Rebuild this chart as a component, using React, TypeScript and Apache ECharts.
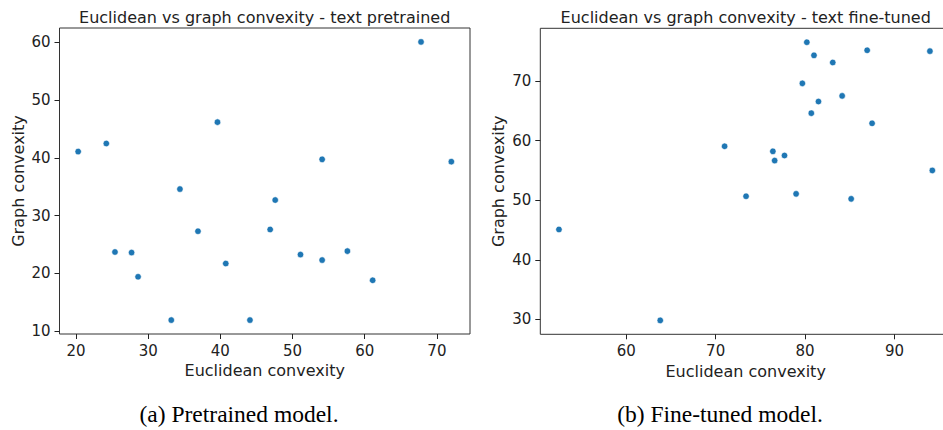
import React, { useEffect, useRef } from "react";
import * as echarts from "echarts";

const pretrainedEuclid = [20.3, 24.2, 39.6, 67.8, 54.1, 72.0, 34.4, 47.6, 36.9, 46.9, 25.4, 27.7, 28.6, 40.75, 51.1, 54.1, 57.6, 61.1, 33.2, 44.1];
const pretrainedGraph = [41.1, 42.5, 46.2, 60.1, 39.75, 39.35, 34.6, 32.7, 27.3, 27.6, 23.7, 23.6, 19.4, 21.7, 23.25, 22.3, 23.85, 18.8, 11.9, 11.9];

const finetunedEuclid = [80.2, 81.0, 83.1, 86.95, 93.97, 79.7, 81.5, 84.15, 80.7, 87.5, 71.0, 76.4, 76.6, 77.7, 94.24, 73.4, 79.0, 85.16, 52.47, 63.8];
const finetunedGraph = [76.5, 74.3, 73.1, 75.15, 75.0, 69.6, 66.55, 67.5, 64.6, 62.9, 59.05, 58.2, 56.65, 57.5, 55.0, 50.67, 51.07, 50.23, 45.1, 29.85];

const leftXTicks = [20, 30, 40, 50, 60, 70];
const leftYTicks = [10, 20, 30, 40, 50, 60];
const rightXTicks = [60, 70, 80, 90];
const rightYTicks = [30, 40, 50, 60, 70];

const titles = ["Euclidean vs graph convexity - text pretrained", "Euclidean vs graph convexity - text fine-tuned"];
const captions = ["(a) Pretrained model.", "(b) Fine-tuned model."];
const xName = "Euclidean convexity";
const yName = "Graph convexity";

const FONT = "DejaVu Sans";
const TXT = "#222";
const BLUE = "#1f77b4";

function pad(vals: number[]) {
  const mn = Math.min(...vals);
  const mx = Math.max(...vals);
  const m = (mx - mn) * 0.05;
  return [mn - m, mx + m];
}

export default function App() {
  const ref = useRef<HTMLDivElement>(null);
  useEffect(() => {
    if (!ref.current) return;
    const chart = echarts.init(ref.current, null, { renderer: "svg" });
    const [lxMin, lxMax] = pad(pretrainedEuclid);
    const [lyMin, lyMax] = pad(pretrainedGraph);
    const [rxMin, rxMax] = pad(finetunedEuclid);
    const [ryMin, ryMax] = pad(finetunedGraph);

    const mkX = (idx: number, min: number, max: number, ticks: number[]) => ({
      type: "value",
      gridIndex: idx,
      min,
      max,
      name: xName,
      nameLocation: "middle",
      nameGap: 27,
      nameTextStyle: { fontFamily: FONT, fontSize: 16, color: TXT },
      splitLine: { show: false },
      axisLine: { show: false },
      axisTick: { show: true, inside: false, length: 5, customValues: ticks, lineStyle: { color: "#222", width: 1 } },
      axisLabel: { customValues: ticks, margin: 9, fontFamily: FONT, fontSize: 15, color: TXT },
    });
    const mkY = (idx: number, min: number, max: number, ticks: number[], gap: number) => ({
      type: "value",
      gridIndex: idx,
      min,
      max,
      name: yName,
      nameLocation: "middle",
      nameGap: gap,
      nameTextStyle: { fontFamily: FONT, fontSize: 16, color: TXT },
      splitLine: { show: false },
      axisLine: { show: false },
      axisTick: { show: true, inside: false, length: 5, customValues: ticks, lineStyle: { color: "#222", width: 1 } },
      axisLabel: { customValues: ticks, margin: 9, fontFamily: FONT, fontSize: 15, color: TXT },
    });

    const pts = (xs: number[], ys: number[]) => xs.map((x, i) => [x, ys[i]]);

    chart.setOption({
      animation: false,
      backgroundColor: "#fff",
      grid: [
        { left: 59.5, top: 28, width: 410.5, height: 306, show: true, borderColor: "#333", borderWidth: 1, backgroundColor: "transparent" },
        { left: 540.3, top: 28.3, width: 410.7, height: 306, show: true, borderColor: "#333", borderWidth: 1, backgroundColor: "transparent" },
      ],
      xAxis: [mkX(0, lxMin, lxMax, leftXTicks), mkX(1, rxMin, rxMax, rightXTicks)],
      yAxis: [mkY(0, lyMin, lyMax, leftYTicks, 33), mkY(1, ryMin, ryMax, rightYTicks, 34)],
      series: [
        {
          type: "scatter",
          xAxisIndex: 0,
          yAxisIndex: 0,
          data: pts(pretrainedEuclid, pretrainedGraph),
          symbolSize: 6.5,
          itemStyle: { color: BLUE, borderColor: "#fff", borderWidth: 0.6, opacity: 1 },
        },
        {
          type: "scatter",
          xAxisIndex: 1,
          yAxisIndex: 1,
          data: pts(finetunedEuclid, finetunedGraph),
          symbolSize: 6.5,
          itemStyle: { color: BLUE, borderColor: "#fff", borderWidth: 0.6, opacity: 1 },
        },
      ],
      graphic: [
        { type: "text", x: 264.7, y: 17, style: { text: titles[0], fontFamily: FONT, fontSize: 16, fill: TXT, textAlign: "center", textVerticalAlign: "middle" } },
        { type: "text", x: 745.7, y: 17, style: { text: titles[1], fontFamily: FONT, fontSize: 16, fill: TXT, textAlign: "center", textVerticalAlign: "middle" } },
        { type: "text", x: 239, y: 414, style: { text: captions[0], fontFamily: "Liberation Serif", fontSize: 23.5, fill: "#000", textAlign: "center", textVerticalAlign: "middle" } },
        { type: "text", x: 720, y: 414, style: { text: captions[1], fontFamily: "Liberation Serif", fontSize: 23.5, fill: "#000", textAlign: "center", textVerticalAlign: "middle" } },
      ],
    });
    return () => chart.dispose();
  }, []);

  return (
    <div style={{ position: "fixed", left: 0, top: 0, width: 943, height: 430, overflow: "hidden", background: "#fff" }}>
      <div ref={ref} style={{ width: 960, height: 430 }} />
    </div>
  );
}
